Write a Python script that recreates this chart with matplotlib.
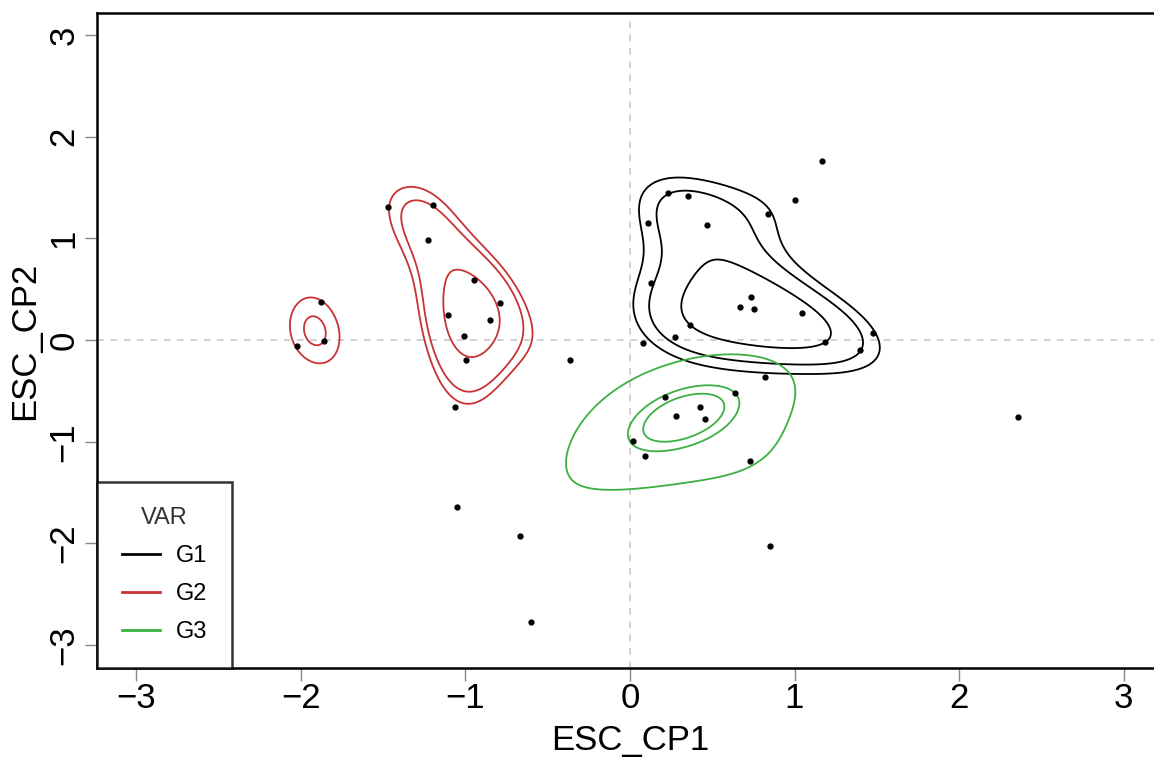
import numpy as np
import matplotlib.pyplot as plt

plt.rcParams['font.family'] = ['Liberation Sans', 'DejaVu Sans']

# puntos (ESC_CP1, ESC_CP2) por grupo
g1_x = [1.167, 1.003, 0.231, 0.353, 0.839, 0.468, 0.109, 0.128, 0.736, 0.669,
        0.754, 1.046, 0.365, 0.274, 0.079, 1.185, 1.477, 1.398, 0.821, 2.359]
g1_y = [1.760, 1.377, 1.445, 1.416, 1.239, 1.131, 1.150, 0.560, 0.423, 0.324,
        0.305, 0.265, 0.147, 0.029, -0.029, -0.020, 0.069, -0.098, -0.364, -0.757]

g2_x = [-1.471, -1.198, -1.228, -1.878, -2.024, -1.860, -0.948, -0.790, -1.106,
        -0.851, -1.009, -0.997, -1.064, -0.365, -0.602]
g2_y = [1.308, 1.327, 0.983, 0.374, -0.059, -0.010, 0.590, 0.364, 0.246,
        0.197, 0.039, -0.197, -0.659, -0.197, -2.773]

g3_x = [0.213, 0.638, 0.426, 0.280, 0.456, 0.018, 0.091, 0.729, 0.851,
        -1.052, -0.669]
g3_y = [-0.560, -0.521, -0.659, -0.747, -0.777, -0.993, -1.141, -1.190, -2.026,
        -1.642, -1.927]

grupos = ['G1', 'G2', 'G3']
colores = ['black', '#c83232', '#3cb043']
contornos = [25, 50, 75]   # % de densidad mas alta


def kde_full(px, py, fac):
    P = np.column_stack([px, py])
    n = len(P)
    H = np.cov(P.T) * fac ** 2 * n ** (-1 / 3)
    Hi = np.linalg.inv(H)
    norm = n * 2 * np.pi * np.sqrt(np.linalg.det(H))

    def f(xx, yy):
        dx = np.asarray(xx)[..., None] - P[:, 0]
        dy = np.asarray(yy)[..., None] - P[:, 1]
        q = Hi[0, 0] * dx * dx + 2 * Hi[0, 1] * dx * dy + Hi[1, 1] * dy * dy
        return np.exp(-0.5 * q).sum(-1) / norm
    return f


fig = plt.figure(figsize=(11.54, 7.67), dpi=100)
ax = fig.add_axes([97 / 1154, 99 / 767, 1066 / 1154, 655 / 767])

ax.axhline(0, color='#c8c8c8', lw=1.2, ls=(0, (4, 4)), zorder=0)
ax.axvline(0, color='#c8c8c8', lw=1.2, ls=(0, (4, 4)), zorder=0)

g = np.linspace(-3.3, 3.3, 330)
X, Y = np.meshgrid(g, g)
datos = [(g1_x, g1_y), (g2_x, g2_y), (g3_x, g3_y)]
factores = [1.0, 0.68, 0.9]
for (px, py), col, fac in zip(datos, colores, factores):
    f = kde_full(px, py, fac)
    Z = f(X, Y)
    alturas = np.sort(np.quantile(f(np.array(px), np.array(py)),
                                  [1 - c / 100 for c in contornos]))
    ax.contour(X, Y, Z, levels=alturas, colors=col, linewidths=1.3)

todos_x = g1_x + g2_x + g3_x
todos_y = g1_y + g2_y + g3_y
ax.plot(todos_x, todos_y, 'o', color='black', ms=3.5, zorder=5)

for c, gr in zip(colores, grupos):
    ax.plot([], [], color=c, lw=2, label=gr)

ax.set_xlim(-3.24, 3.24)
ax.set_ylim(-3.225, 3.215)
ax.set_xticks(range(-3, 4))
ax.set_yticks(range(-3, 4))
ax.set_xticklabels([str(v).replace('-', '\u2212') for v in range(-3, 4)])
ax.set_yticklabels([str(v).replace('-', '\u2212') for v in range(-3, 4)])
ax.tick_params(direction='out', length=9, width=1, color='#888888', labelsize=25)
ax.tick_params(axis='x', pad=1)
ax.tick_params(axis='y', pad=3, labelrotation=90)
for lab in ax.get_yticklabels():
    lab.set_va('center')
for s in ax.spines.values():
    s.set_linewidth(1.8)

ax.set_xlabel('ESC_CP1', fontsize=25)
ax.set_ylabel('ESC_CP2', fontsize=25)
ax.xaxis.set_label_coords(0.5, -0.085)
ax.yaxis.set_label_coords(-0.052, 0.5)

leg = ax.legend(title='VAR', loc='lower left', borderaxespad=0, fontsize=17,
                title_fontsize=17, fancybox=False, handlelength=1.6,
                handletextpad=0.7, labelspacing=0.68, borderpad=1.05)
leg.get_frame().set_edgecolor('black')
leg.get_frame().set_linewidth(1.8)
leg.get_title().set_color('#333333')

fig.savefig('out.png', dpi=100)
